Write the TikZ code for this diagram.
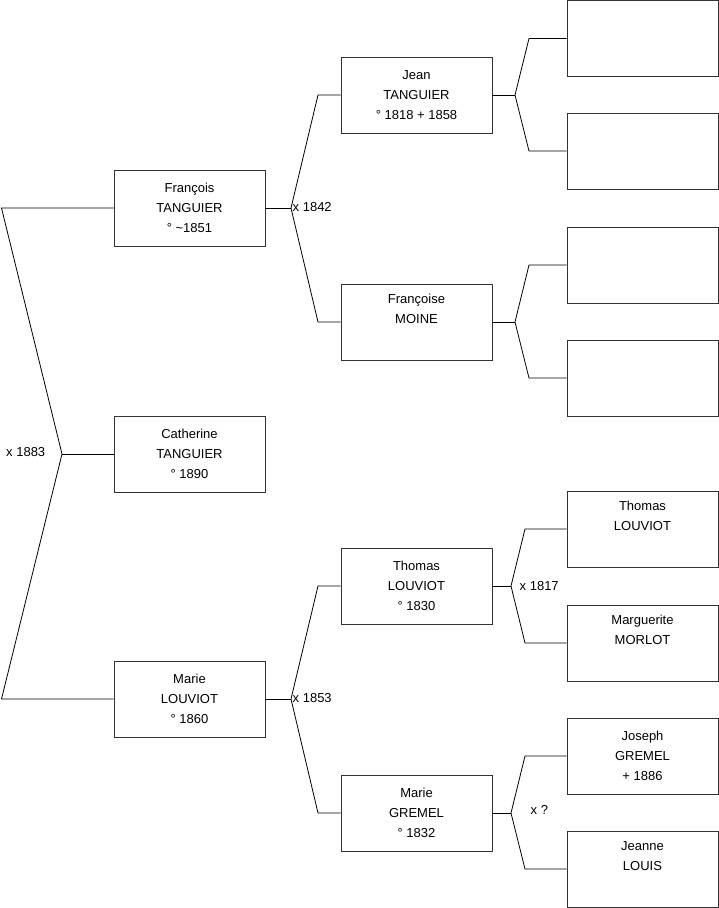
\documentclass[tikz,border=0pt]{standalone}
\usepackage{fontspec}
\setmainfont{Liberation Sans}
\begin{document}
\begin{tikzpicture}[x=1pt,y=-1pt,
  person/.style={draw=black!80, line width=0.9pt, minimum width=151pt, minimum height=76pt,
    inner sep=0pt, align=center, font=\fontsize{13}{20}\selectfont},
  link/.style={draw=black, line width=0.8pt},
  lbl/.style={font=\fontsize{13}{15}\selectfont, inner sep=0pt, anchor=west}]
\useasboundingbox (0,0) rectangle (719,908);
% column 1
\node[person] (fr) at (189.5,208) {François\\TANGUIER\\° \textasciitilde1851};
\node[person] (ca) at (189.5,454) {Catherine\\TANGUIER\\° 1890};
\node[person] (ma) at (189.5,699) {Marie\\LOUVIOT\\° 1860};
% column 2
\node[person] (je) at (416.5,95) {Jean\\TANGUIER\\° 1818 + 1858};
\node[person] (fo) at (416.5,322) {Françoise\\MOINE\\\strut};
\node[person] (th) at (416.5,586) {Thomas\\LOUVIOT\\° 1830};
\node[person] (mg) at (416.5,813) {Marie\\GREMEL\\° 1832};
% column 3
\node[person] (e1) at (642.5,38.5) {};
\node[person] (e2) at (642.5,151) {};
\node[person] (e3) at (642.5,265) {};
\node[person] (e4) at (642.5,378) {};
\node[person] (tl) at (642.5,529) {Thomas\\LOUVIOT\\\strut};
\node[person] (mm) at (642.5,643) {Marguerite\\MORLOT\\\strut};
\node[person] (jg) at (642.5,756) {Joseph\\GREMEL\\+ 1886};
\node[person] (jl) at (642.5,869) {Jeanne\\LOUIS\\\strut};
% junction points
\coordinate (v0) at (62,454);
\coordinate (v0t) at (1.5,208);
\coordinate (v0b) at (1.5,699);
\coordinate (v1) at (291,208);
\coordinate (v2) at (291,699);
\coordinate (v3) at (515,95);
\coordinate (v4) at (515,322);
\coordinate (v5) at (511,586);
\coordinate (v6) at (511,813);
% connectors
\draw[link] (fr.west) -- (v0t) -- (v0) -- (v0b) -- (ma.west);
\draw[link] (v0) -- (ca.west);
\draw[link] (fr.east) -- (v1);
\draw[link] (je.west) -- (318,95) -- (v1) -- (318,322) -- (fo.west);
\draw[link] (ma.east) -- (v2);
\draw[link] (th.west) -- (318,586) -- (v2) -- (318,813) -- (mg.west);
\draw[link] (je.east) -- (v3);
\draw[link] (e1.west) -- (529,38.5) -- (v3) -- (529,151) -- (e2.west);
\draw[link] (fo.east) -- (v4);
\draw[link] (e3.west) -- (529,265) -- (v4) -- (529,378) -- (e4.west);
\draw[link] (th.east) -- (v5);
\draw[link] (tl.west) -- (525,529) -- (v5) -- (525,643) -- (mm.west);
\draw[link] (mg.east) -- (v6);
\draw[link] (jg.west) -- (525,756) -- (v6) -- (525,869) -- (jl.west);
% marriage labels
\node[lbl] (m0) at (6,452) {x 1883};
\node[lbl] (m1) at (292.5,207) {x 1842};
\node[lbl] (m2) at (292.5,698) {x 1853};
\node[lbl] (m3) at (519.5,586) {x 1817};
\node[lbl] (m4) at (530.5,810) {x ?};
\end{tikzpicture}
\end{document}
